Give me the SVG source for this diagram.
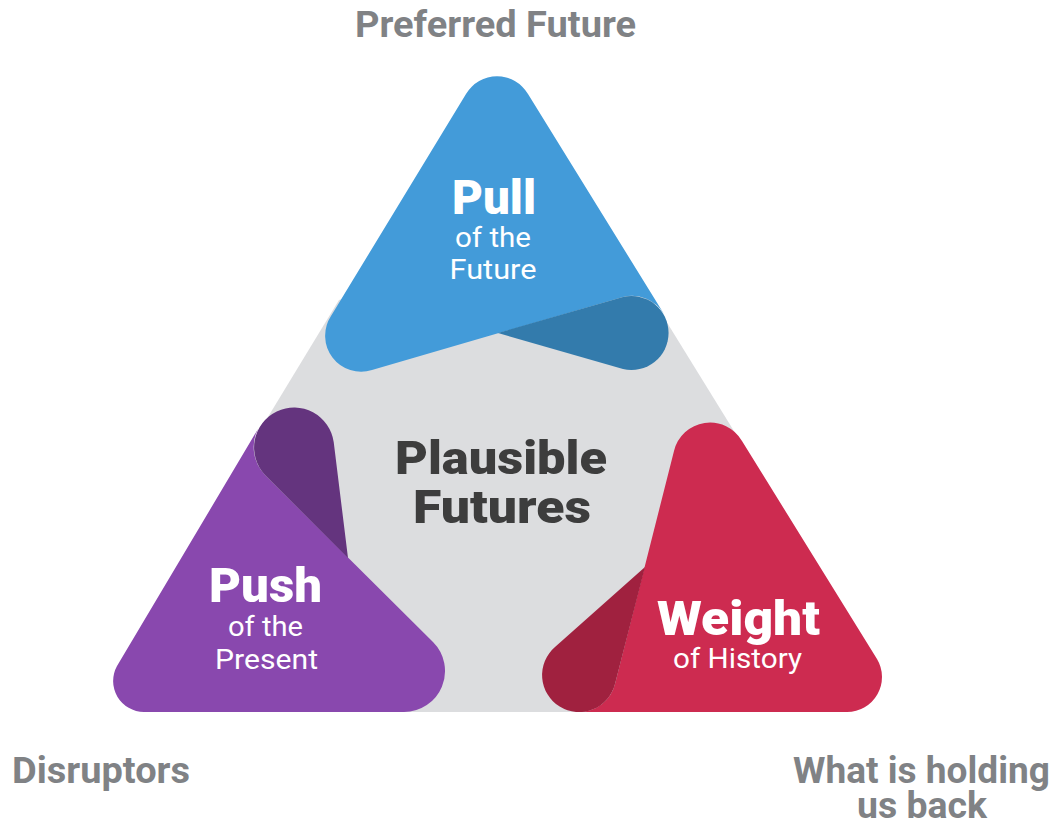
<svg xmlns="http://www.w3.org/2000/svg" width="1054" height="825" viewBox="0 0 1054 825">
  <style>
    .lbl { font-family: Roboto, "Liberation Sans", sans-serif; font-weight: 700; fill: #808285; font-size: 36px; text-anchor: middle; }
    .big { font-family: Roboto, "Liberation Sans", sans-serif; font-weight: 900; fill: #ffffff; font-size: 48px; text-anchor: middle; }
    .sub { font-family: Roboto, "Liberation Sans", sans-serif; font-weight: 400; fill: #ffffff; font-size: 27px; text-anchor: middle; }
    .ctr { font-family: Roboto, "Liberation Sans", sans-serif; font-weight: 900; fill: #3d3d3d; font-size: 46px; text-anchor: middle; }
  </style>
  <rect width="1054" height="825" fill="#ffffff"/>

  <g id="plausible-futures">
    <polygon points="497,250 339,300 231,478 300,712 700,712 758,470 650,295" fill="#dcdddf"/>
    <text class="ctr" x="501" y="474" textLength="212" lengthAdjust="spacingAndGlyphs">Plausible</text>
    <text class="ctr" x="502" y="523" textLength="178" lengthAdjust="spacingAndGlyphs">Futures</text>
  </g>

  <g id="pull">
    <path d="M466,94 L331,316 A36,36 0 0 0 372,370 L623,297 A37,37 0 0 1 664,314 L528,94 A36,36 0 0 0 466,94 Z" fill="#439bd9"/>
    <path d="M498,333 L623,369 A37,37 0 1 0 623,297 Z" fill="#337bac"/>
    <text class="big" x="494" y="214" textLength="84" lengthAdjust="spacingAndGlyphs">Pull</text>
    <text class="sub" x="493" y="247" textLength="76" lengthAdjust="spacingAndGlyphs">of the</text>
    <text class="sub" x="493" y="279" textLength="87" lengthAdjust="spacingAndGlyphs">Future</text>
  </g>

  <g id="push">
    <path d="M117,666 L258,429 A40,40 0 0 0 265,475 L433,642 A41,41 0 0 1 404,712 L144,712 A31,31 0 0 1 117,666 Z" fill="#8948ae"/>
    <path d="M265,475 L348,558 L333.7,442 A40,40 0 1 0 265,475 Z" fill="#64347e"/>
    <text class="big" x="265.5" y="602" textLength="113" lengthAdjust="spacingAndGlyphs">Push</text>
    <text class="sub" x="265.5" y="636" textLength="75" lengthAdjust="spacingAndGlyphs">of the</text>
    <text class="sub" x="266.5" y="669" textLength="103" lengthAdjust="spacingAndGlyphs">Present</text>
  </g>

  <g id="weight">
    <path d="M674,451 A37,37 0 0 1 742,441 L877,659 A35,35 0 0 1 847,712 L579,712 A37,37 0 0 0 615,684 Z" fill="#cd2b50"/>
    <path d="M645,567 L615,684 A37,37 0 1 1 555,647 Z" fill="#a0213f"/>
    <text class="big" x="738.5" y="635" textLength="163" lengthAdjust="spacingAndGlyphs">Weight</text>
    <text class="sub" x="737.5" y="668" textLength="129" lengthAdjust="spacingAndGlyphs">of History</text>
  </g>

  <g id="labels">
    <text class="lbl" x="495.5" y="37" textLength="281" lengthAdjust="spacingAndGlyphs">Preferred Future</text>
    <text class="lbl" x="101" y="783" textLength="178" lengthAdjust="spacingAndGlyphs">Disruptors</text>
    <text class="lbl" x="921.5" y="783" textLength="257" lengthAdjust="spacingAndGlyphs">What is holding</text>
    <text class="lbl" x="922" y="818" textLength="130" lengthAdjust="spacingAndGlyphs">us back</text>
  </g>

  <g id="connectors"></g>
</svg>
